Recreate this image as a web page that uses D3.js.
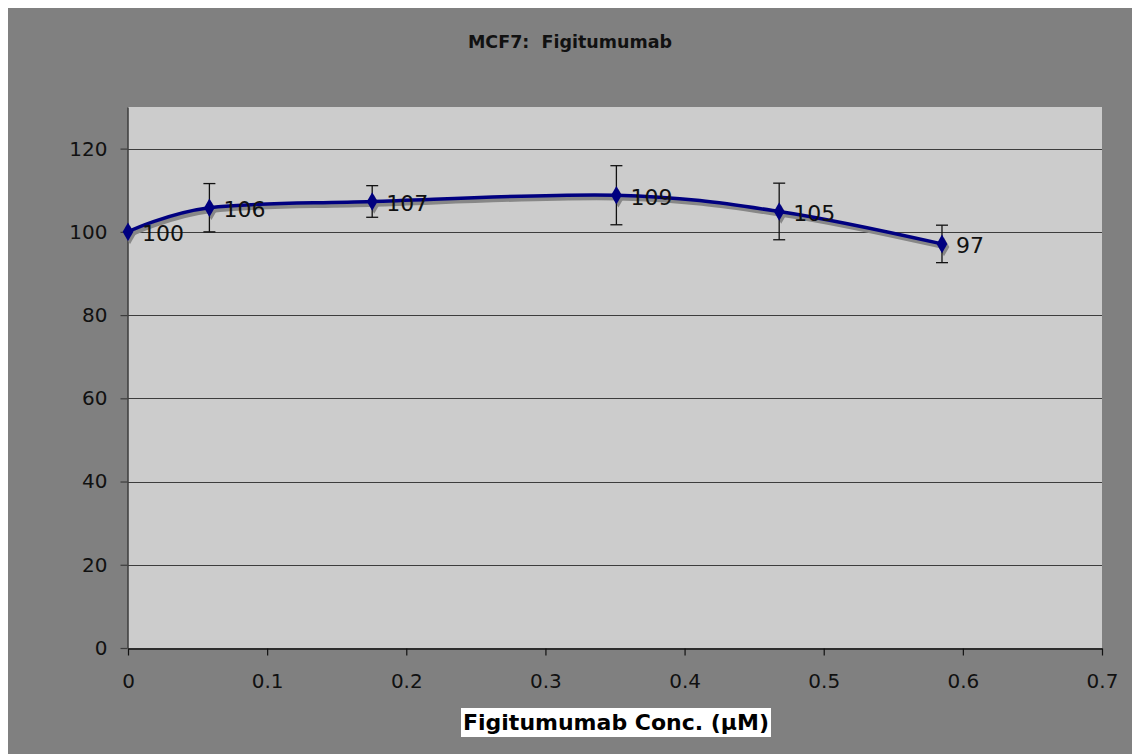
<!DOCTYPE html>
<html>
<head>
<meta charset="utf-8">
<script src="https://cdn.jsdelivr.net/npm/d3@7"></script>
<style>
  html, body { margin: 0; padding: 0; background: #ffffff; }
  svg { display: block; }
</style>
</head>
<body>
<script>
// ---- data ----
const concentrations = [0, 0.0585, 0.1755, 0.351, 0.468, 0.585];
const viability = [100, 105.8, 107.3, 108.8, 104.9, 97.1];
const errors = [0, 5.8, 3.8, 7.1, 6.8, 4.5];
const pointLabels = ["100", "106", "107", "109", "105", "97"];
const yTicks = [0, 20, 40, 60, 80, 100, 120];
const yTickLabels = ["0", "20", "40", "60", "80", "100", "120"];
const xTicks = [0, 0.1, 0.2, 0.3, 0.4, 0.5, 0.6, 0.7];
const xTickLabels = ["0", "0.1", "0.2", "0.3", "0.4", "0.5", "0.6", "0.7"];
const chartTitle = "MCF7:  Figitumumab";
const xAxisTitle = "Figitumumab Conc. (\u00B5M)";

// ---- layout ----
const W = 1132, H = 754;
const plot = { left: 128, top: 107, right: 1102, bottom: 648 };
const font = "'DejaVu Sans', Verdana, sans-serif";

const svg = d3.select("body").append("svg").attr("width", W).attr("height", H);
svg.append("rect").attr("x", 0).attr("y", 0).attr("width", W).attr("height", H).attr("fill", "#ffffff");
svg.append("rect").attr("x", 8).attr("y", 8).attr("width", W - 8).attr("height", H - 8).attr("fill", "#808080");

const x = d3.scaleLinear().domain([0, 0.7]).range([plot.left, plot.right]);
const y = d3.scaleLinear().domain([0, 130]).range([plot.bottom, plot.top]);

// plot area
svg.append("rect")
  .attr("x", plot.left).attr("y", plot.top)
  .attr("width", plot.right - plot.left).attr("height", plot.bottom - plot.top)
  .attr("fill", "#cccccc");

// gridlines
svg.append("g").selectAll("line").data(yTicks.filter(d => d > 0)).join("line")
  .attr("x1", plot.left).attr("x2", plot.right)
  .attr("y1", d => Math.round(y(d)) + 0.5).attr("y2", d => Math.round(y(d)) + 0.5)
  .attr("stroke", "#3c3c3c").attr("stroke-width", 1.2);

// y axis
const yAxis = d3.axisLeft(y).tickValues(yTicks).tickSize(7).tickSizeOuter(0)
  .tickFormat((d, i) => yTickLabels[i]);
const gy = svg.append("g").attr("transform", `translate(${plot.left - 0.5},0)`).call(yAxis);
gy.select(".domain").attr("stroke", "#3c3c3c").attr("stroke-width", 1.5);
gy.selectAll(".tick line").attr("stroke", "#3c3c3c").attr("stroke-width", 1.2);
gy.selectAll(".tick text").attr("font-family", font).attr("font-size", 20)
  .attr("fill", "#111").attr("x", -20);

// x axis
const xAxis = d3.axisBottom(x).tickValues(xTicks).tickSize(7).tickSizeOuter(0)
  .tickFormat((d, i) => xTickLabels[i]);
const gx = svg.append("g").attr("transform", `translate(0,${plot.bottom + 0.5})`).call(xAxis);
gx.select(".domain").attr("stroke", "#111").attr("stroke-width", 1.5);
gx.selectAll(".tick line").attr("stroke", "#111").attr("stroke-width", 1.2);
gx.selectAll(".tick text").attr("font-family", font).attr("font-size", 20)
  .attr("fill", "#111").attr("y", 25);

const pts = concentrations.map((c, i) => ({ c, v: viability[i], e: errors[i], label: pointLabels[i] }));

const line = d3.line().x(d => x(d.c)).y(d => y(d.v)).curve(d3.curveCardinal.tension(0));

// shadow
const shadow = svg.append("g").attr("transform", "translate(2,3)");
shadow.append("path").datum(pts).attr("d", line)
  .attr("fill", "none").attr("stroke", "#878787").attr("stroke-width", 4.5);
const diamond = d3.symbol().type(d3.symbolDiamond).size(100);
shadow.selectAll("path.m").data(pts).join("path").attr("class", "m")
  .attr("transform", d => `translate(${x(d.c)},${y(d.v)})`)
  .attr("d", diamond).attr("fill", "#878787");

// error bars
const eb = svg.append("g").attr("stroke", "#111").attr("stroke-width", 1.3);
pts.filter(d => d.e > 0).forEach(d => {
  const px = x(d.c);
  eb.append("line").attr("x1", px).attr("x2", px).attr("y1", y(d.v + d.e)).attr("y2", y(d.v - d.e));
  eb.append("line").attr("x1", px - 6).attr("x2", px + 6).attr("y1", y(d.v + d.e)).attr("y2", y(d.v + d.e));
  eb.append("line").attr("x1", px - 6).attr("x2", px + 6).attr("y1", y(d.v - d.e)).attr("y2", y(d.v - d.e));
});

// main line
svg.append("path").datum(pts).attr("d", line)
  .attr("fill", "none").attr("stroke", "#000080").attr("stroke-width", 3.5);

// markers
svg.selectAll("path.marker").data(pts).join("path").attr("class", "marker")
  .attr("transform", d => `translate(${x(d.c)},${y(d.v)})`)
  .attr("d", diamond).attr("fill", "#000080");

// data labels
svg.selectAll("text.dl").data(pts).join("text").attr("class", "dl")
  .attr("x", d => x(d.c) + 14).attr("y", d => y(d.v) + 2)
  .attr("dominant-baseline", "central")
  .attr("font-family", font).attr("font-size", 22).attr("fill", "#111")
  .text(d => d.label);

// title
svg.append("text").attr("x", 570).attr("y", 48).attr("text-anchor", "middle")
  .attr("xml:space", "preserve").style("white-space", "pre")
  .attr("font-family", font).attr("font-size", 17.5).attr("font-weight", "bold").attr("fill", "#111")
  .text(chartTitle);

// x axis title with white box
const xt = svg.append("text").attr("x", 616).attr("y", 730).attr("text-anchor", "middle")
  .attr("font-family", font).attr("font-size", 22).attr("font-weight", "bold").attr("fill", "#000")
  .text(xAxisTitle);
const bb = xt.node().getBBox();
svg.insert("rect", () => xt.node())
  .attr("x", bb.x - 2).attr("y", 708).attr("width", bb.width + 4).attr("height", 29)
  .attr("fill", "#ffffff");
</script>
</body>
</html>
